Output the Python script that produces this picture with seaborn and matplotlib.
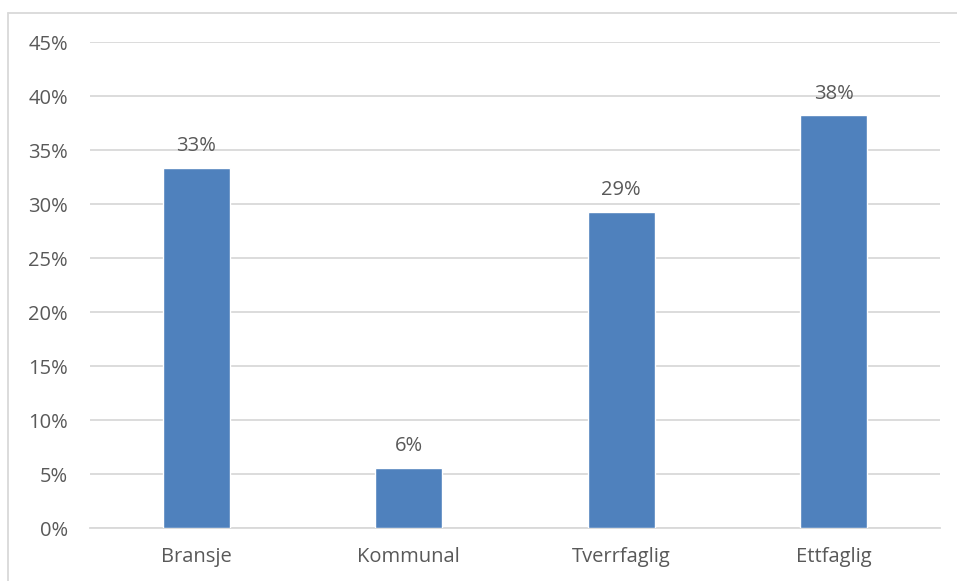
import matplotlib.pyplot as plt
import seaborn as sns
import pandas as pd
from matplotlib.lines import Line2D
from matplotlib.ticker import FuncFormatter

categories = ["Bransje", "Kommunal", "Tverrfaglig", "Ettfaglig"]
shares = [33.3, 5.6, 29.3, 38.2]
labels = ["33%", "6%", "29%", "38%"]

df = pd.DataFrame({"kategori": categories, "andel": shares})

sns.set_style("white")
plt.rcParams['font.family'] = ['Open Sans', 'DejaVu Sans']
text_col = "#595959"
fs = 14.5

fig = plt.figure(figsize=(9.57, 5.81), dpi=100)
ax = fig.add_axes([90 / 957, 53 / 581, 850 / 957, 486 / 581])

sns.barplot(data=df, x="kategori", y="andel", color="#4F81BD",
            width=0.315, saturation=1, ax=ax, zorder=3)

for i, (v, lab) in enumerate(zip(shares, labels)):
    ax.text(i, v + 1.1, lab, ha="center", va="bottom", fontsize=fs, color=text_col)

ax.set_ylim(0, 45)
ax.set_xlim(-0.5, 3.5)
ax.set_yticks(range(0, 46, 5))
ax.yaxis.set_major_formatter(FuncFormatter(lambda v, p: f"{int(v)}%"))
ax.grid(axis="y", color="#D9D9D9", linewidth=1.3, zorder=0)
ax.set_axisbelow(True)
for s in ["top", "right", "left"]:
    ax.spines[s].set_visible(False)
ax.spines["bottom"].set_color("#D9D9D9")
ax.spines["bottom"].set_linewidth(1.3)
ax.tick_params(axis="both", length=0, labelsize=fs, labelcolor=text_col)
ax.tick_params(axis="y", pad=16)
ax.tick_params(axis="x", pad=14)
ax.set_xlabel("")
ax.set_ylabel("")

# outer frame (top and left only visible)
fig.add_artist(Line2D([8 / 957, 1.0], [1 - 12.5 / 581, 1 - 12.5 / 581],
                      transform=fig.transFigure, color="#D9D9D9", linewidth=1.3))
fig.add_artist(Line2D([8 / 957, 8 / 957], [0, 1 - 12.5 / 581],
                      transform=fig.transFigure, color="#D9D9D9", linewidth=1.3))

plt.savefig("out.png", dpi=100)
